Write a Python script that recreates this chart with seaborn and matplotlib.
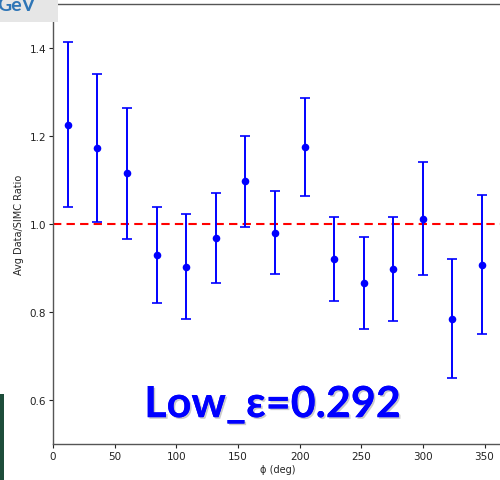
import matplotlib
matplotlib.use("Agg")
import matplotlib.pyplot as plt
import matplotlib.patheffects as pe
import seaborn as sns
import pandas as pd
import numpy as np

phi = [12, 36, 60, 84, 108, 132, 156, 180, 204, 228, 252, 276, 300, 324, 348]
ratio = [1.226, 1.173, 1.115, 0.930, 0.903, 0.968, 1.097, 0.980, 1.175, 0.921, 0.866, 0.898, 1.012, 0.785, 0.907]
err = [0.187, 0.169, 0.149, 0.109, 0.120, 0.102, 0.103, 0.094, 0.111, 0.095, 0.104, 0.119, 0.128, 0.135, 0.158]
xticks = [0, 50, 100, 150, 200, 250, 300, 350]
yticks = [0.6, 0.8, 1.0, 1.2, 1.4]

df = pd.DataFrame({"phi": phi, "ratio": ratio, "err": err})

sns.set_style("ticks")
plt.rcParams["font.family"] = ["DejaVu Sans"]

W, H = 500, 481
fig = plt.figure(figsize=(W / 100, H / 100), dpi=100)
fig.patch.set_facecolor("white")

ax = fig.add_axes([53 / W, (H - 445) / H, 450 / W, 440 / H])
ax.errorbar(df["phi"], df["ratio"], yerr=df["err"], fmt="none", ecolor="blue",
            elinewidth=1.4, capsize=3.5, capthick=1.2, zorder=3)
sns.scatterplot(data=df, x="phi", y="ratio", ax=ax, color="blue", s=30,
                edgecolor="blue", linewidth=0, zorder=4)
ax.axhline(1.0, color="red", linestyle="--", linewidth=1.5, dashes=(4, 2.5), zorder=2)

ax.set_xlim(0, 365)
ax.set_ylim(0.5, 1.5)
ax.set_xticks(xticks)
ax.set_yticks(yticks)
ax.set_xticklabels([str(t) for t in xticks])
ax.set_yticklabels([f"{t:.1f}" for t in yticks])
ax.tick_params(labelsize=7.5, length=3, width=0.8, colors="#222222", pad=2)
ax.set_xlabel("ϕ (deg)", fontsize=7, labelpad=2)
ax.set_ylabel("Avg Data/SIMC Ratio", fontsize=7, labelpad=4)
for s in ["left", "bottom", "top", "right"]:
    ax.spines[s].set_color("#555555")
    ax.spines[s].set_linewidth(1.0)

ax.text(0.488, 0.061, "Low_ε=0.292", transform=ax.transAxes, ha="center", va="baseline",
        fontsize=31, fontweight="bold", color="#0000ff", family=["Lato", "DejaVu Sans"],
        path_effects=[pe.withSimplePatchShadow(offset=(1.2, -1.2), shadow_rgbFace="#999999", alpha=0.5),
                      pe.Normal()], zorder=6)

# slide decorations
fig.patches.append(plt.Rectangle((0, 1 - 23 / H), 58 / W, 23 / H, transform=fig.transFigure,
                                 facecolor="#e6e6e6", edgecolor="none", zorder=10))
fig.text(-3 / W, 1 - 11 / H, "GeV", ha="left", va="baseline", fontsize=14, fontweight="bold",
         color="#2e75b6", family=["Lato", "DejaVu Sans"], zorder=11)
fig.patches.append(plt.Rectangle((0, 0), 4 / W, 86 / H, transform=fig.transFigure,
                                 facecolor="#1d4d3a", edgecolor="none", zorder=10))

fig.savefig("out.png", dpi=100, facecolor="white")
